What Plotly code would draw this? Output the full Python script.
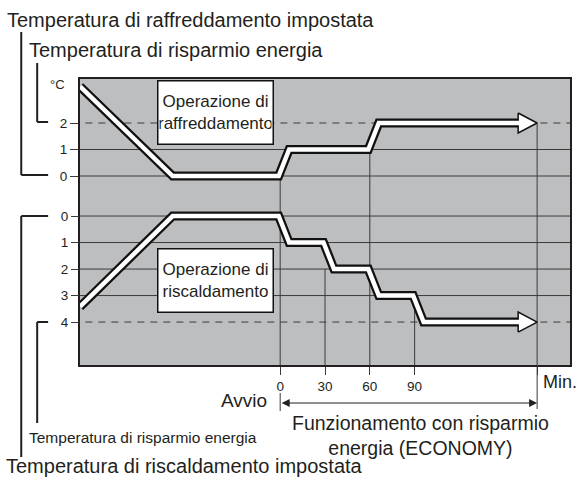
import plotly.graph_objects as go

# ---------------- data ----------------
minute_ticks = [0, 30, 60, 90]
minute_labels = ["0", "30", "60", "90"]
end_minute = 172

cool_levels = [0, 1, 2]            # °C offset, cooling (upwards)
heat_levels = [0, 1, 2, 3, 4]      # °C offset, heating (downwards)

cool_t = [-134, -72, -1, 6, 59, 66, 159.3]
cool_v = [3.38, 0, 0, 1, 1, 2, 2]

heat_t = [-134, -72, -1, 6, 29, 36, 59, 66, 89, 96, 159.3]
heat_v = [3.42, 0, 0, 1, 1, 2, 2, 3, 3, 4, 4]

# vertical markers: minute, axis, level where the line starts
marker_t = [0, 30, 60, 90, 172]
marker_axis = ["y", "y2", "y", "y2", "y"]
marker_level = [0, 2, 1, 3, 2]

INK = "#231f20"
GRID = "#3a3a3a"
BG = "#bdbec0"
FONT = "Liberation Sans, Arial, sans-serif"

X_RANGE = [-134, 194]
Y_RANGE = [-7.13, 3.66]
Y2_RANGE = [5.62, -5.17]

fig = go.Figure()

def line_trace(x, y, axis, color, width, dash=None):
    fig.add_trace(go.Scatter(x=x, y=y, yaxis=axis, mode="lines",
                             line=dict(color=color, width=width, dash=dash),
                             hoverinfo="skip", showlegend=False))

# horizontal grid lines
for lv in cool_levels:
    line_trace([-200, 300], [lv, lv], "y", GRID, 1, "7px,6px" if lv == max(cool_levels) else None)
for lv in heat_levels:
    line_trace([-200, 300], [lv, lv], "y2", GRID, 1, "7px,6px" if lv == max(heat_levels) else None)

# vertical marker lines (start at the path, run to the bottom of the plot)
for t, ax, lv in zip(marker_t, marker_axis, marker_level):
    bottom = -50 if ax == "y" else 50
    line_trace([t, t], [lv, bottom], ax, GRID, 1)

# paths: black outline, arrowhead, white core
def path(tx, vy, axis):
    line_trace(tx, vy, axis, "#111111", 9)
    base, lv = tx[-1], vy[-1]
    h = 0.377
    fig.add_trace(go.Scatter(x=[base, end_minute, base, base],
                             y=[lv + h, lv, lv - h, lv + h], yaxis=axis,
                             mode="lines", fill="toself", fillcolor="white",
                             line=dict(color="#111111", width=1.5),
                             hoverinfo="skip", showlegend=False))
    line_trace(tx[:-1] + [base + 1.3], vy, axis, "white", 4.5)

path(cool_t, cool_v, "y")
path(heat_t, heat_v, "y2")

shapes = []
def seg(x0, y0, x1, y1, xref="paper", yref="paper", w=2, color=INK):
    shapes.append(dict(type="line", x0=x0, y0=y0, x1=x1, y1=y1, xref=xref, yref=yref,
                       line=dict(color=color, width=w)))

# brackets on the left (paper coords)
def px_x(px):
    return (px - 80) / 492
def px_y(py):
    return (365 - py) / 286

seg(px_x(21), px_y(32), px_x(21), px_y(175))
seg(px_x(21), px_y(175), px_x(48), px_y(175))
seg(px_x(37), px_y(63), px_x(37), px_y(122))
seg(px_x(37), px_y(122), px_x(48), px_y(122))
seg(px_x(21), px_y(216), px_x(21), px_y(457))
seg(px_x(21), px_y(216), px_x(48), px_y(216))
seg(px_x(37), px_y(322), px_x(37), px_y(423))
seg(px_x(37), px_y(322), px_x(48), px_y(322))

# lines below axis
seg(0, px_y(393), 0, px_y(411), xref="x", w=1, color=GRID)
seg(end_minute, 0, end_minute, px_y(409), xref="x", w=1, color=GRID)

annotations = []
def txt(text, x, y, size, xanchor="left", xref="paper", yref="paper", family=FONT, **kw):
    annotations.append(dict(text=text, x=x, y=y, xref=xref, yref=yref, showarrow=False,
                            xanchor=xanchor, yanchor="middle", borderpad=0,
                            font=dict(size=size, family=family, color=INK), **kw))

txt("Temperatura di raffreddamento impostata", px_x(6), px_y(20), 20)
txt("Temperatura di risparmio energia", px_x(28), px_y(50), 20)
txt("°C", px_x(57), px_y(84), 13, xanchor="center")
txt("Temperatura di risparmio energia", px_x(28), px_y(437), 15.5)
txt("Temperatura di riscaldamento impostata", px_x(5), px_y(466), 20)
txt("Min.", px_x(580), px_y(382), 18, xanchor="right")
txt("Avvio", 0, px_y(400), 19, xanchor="right", xref="x", xshift=-12)
txt("Funzionamento con risparmio<br>energia (ECONOMY)", 94, px_y(435), 19.5,
    xanchor="center", xref="x", align="center")

# operation boxes
for label, yc, yref in [("Operazione di<br>raffreddamento", 2.38, "y"),
                        ("Operazione di<br>riscaldamento", 2.42, "y2")]:
    annotations.append(dict(text=label, x=-43.3, y=yc, xref="x", yref=yref, showarrow=False,
                            xanchor="center", yanchor="middle", align="center",
                            width=112, height=60, bgcolor="white", bordercolor="#111111",
                            borderwidth=1.5, borderpad=1,
                            font=dict(size=17, family=FONT, color=INK)))

# double arrow for ECONOMY period
annotations.append(dict(x=end_minute, y=px_y(403), xref="x", yref="paper",
                        ax=0, ay=0, axref="x", ayref="pixel",
                        text="", showarrow=True, arrowhead=2, startarrowhead=2,
                        arrowside="end+start", arrowsize=1.6, startarrowsize=1.6,
                        arrowwidth=1, arrowcolor=INK, standoff=0, startstandoff=0))

fig.update_layout(
    width=581, height=482,
    margin=dict(l=80, r=9, t=79, b=117),
    paper_bgcolor="white", plot_bgcolor=BG,
    font=dict(family=FONT, color=INK),
    showlegend=False,
    xaxis=dict(range=X_RANGE, tickvals=minute_ticks + [end_minute],
               ticktext=minute_labels + [""], ticks="outside", ticklen=8,
               tickcolor=GRID, tickwidth=1, showgrid=False, zeroline=False,
               showline=True, mirror=True, linecolor=INK, linewidth=2,
               tickfont=dict(size=13.5, family=FONT, color=INK)),
    yaxis=dict(range=Y_RANGE, tickvals=cool_levels, ticks="outside", ticklen=8,
               tickcolor=GRID, tickwidth=1, showgrid=False, zeroline=False,
               showline=True, mirror=True, linecolor=INK, linewidth=2,
               tickfont=dict(size=13.5, family=FONT, color=INK)),
    yaxis2=dict(range=Y2_RANGE, overlaying="y", side="left", tickvals=heat_levels,
                ticks="outside", ticklen=8, tickcolor=GRID, tickwidth=1,
                showgrid=False, zeroline=False, showline=False,
                tickfont=dict(size=13.5, family=FONT, color=INK)),
    shapes=shapes, annotations=annotations,
)

fig.write_html("out.html", config={"displayModeBar": False},
               post_script="document.body.style.margin='0';document.body.style.overflow='hidden';")
